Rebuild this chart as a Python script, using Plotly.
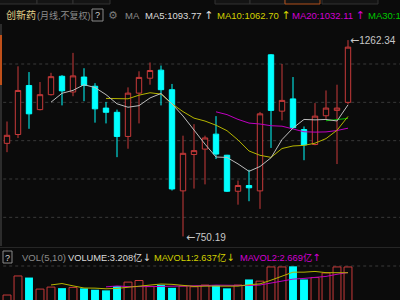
import plotly.graph_objects as go
import pandas as pd

# ---------------- data ----------------
opens = [993, 1016, 1144, 1081, 1120, 1168, 1127, 1166, 1142, 1085, 1074, 1011, 1124, 1163, 1184, 1133,
         869, 964, 978, 1017, 962, 868, 883, 869, 1224, 1077, 1109, 1029, 990, 1065, 1079, 1100]
highs = [1050, 1194, 1179, 1153, 1177, 1171, 1229, 1189, 1150, 1101, 1081, 1139, 1181, 1204, 1196, 1148,
         1013, 1043, 1013, 1064, 963, 896, 924, 1075, 1226, 1200, 1166, 1037, 1098, 1131, 1146, 1262.34]
lows = [970, 1007, 1031, 1079, 1118, 1092, 1116, 1103, 1047, 1045, 957, 979, 1045, 1146, 1092, 870,
        750.19, 875, 886, 952, 866, 833, 842, 822, 981, 1053, 1032, 949, 988, 1057, 939, 1095]
closes = [1014, 1131, 1070, 1120, 1167, 1130, 1169, 1144, 1083, 1074, 1011, 1124, 1165, 1183, 1133, 874,
          967, 974, 1007, 965, 868, 883, 877, 1070, 1079, 1105, 1034, 989, 1064, 1085, 1085, 1244]
volumes = [0.56, 2.36, 2.21, 1.12, 1.31, 1.21, 1.28, 1.19, 1.06, 1.00, 1.40, 1.78, 1.93, 1.37, 1.52, 1.24,
           1.40, 1.34, 1.50, 1.47, 1.19, 1.50, 2.03, 1.87, 3.21, 3.21, 3.27, 2.03, 2.21, 2.64, 3.21, 3.208]

title_name = "创新药"
title_sub = "(月线,不复权)"
ma_labels = ["MA5:1093.77", "MA10:1062.70", "MA20:1032.11"]
vol_labels = ["VOLUME:3.208亿", "MAVOL1:2.637亿", "MAVOL2:2.669亿"]
high_label = "1262.34"
low_label = "750.19"
grid_prices = [800, 900, 1000, 1100, 1200]

# ---------------- styles ----------------
BG = "#0b0b0b"
RED = "#c83a3a"
CYAN = "#00ffff"
GRAY_MA = "#bdbdbd"
YEL = "#b4b400"
MAG = "#c000c0"
GRN = "#00c000"
FONT = "Liberation Sans, Noto Sans CJK SC, DejaVu Sans"

W, H = 400, 300
def px(x):
    return x / W
def py(y):
    return 1 - y / H

def arrow(a, size=11):
    return '<span style="font-family:DejaVu Sans;font-size:%dpx">%s</span>' % (size, a)

idx = list(range(len(closes)))
s = pd.Series(closes, dtype=float)
ma5 = s.rolling(5).mean()
ma10 = s.rolling(10).mean()
ma20 = s.rolling(20).mean()
ma30 = s.rolling(30).mean()
v = pd.Series(volumes, dtype=float)
mav5 = v.rolling(5).mean()
mav10 = v.rolling(10).mean()

fig = go.Figure()

for ser, col in [(ma30, GRN), (ma20, MAG), (ma10, YEL), (ma5, GRAY_MA)]:
    fig.add_trace(go.Scatter(x=idx, y=ser, mode="lines", line=dict(color=col, width=1),
                             hoverinfo="skip", showlegend=False, xaxis="x", yaxis="y"))

fig.add_trace(go.Candlestick(
    x=idx, open=opens, high=highs, low=lows, close=closes,
    increasing=dict(line=dict(color=RED, width=1), fillcolor=BG),
    decreasing=dict(line=dict(color=CYAN, width=1), fillcolor=CYAN),
    whiskerwidth=0, hoverinfo="skip", showlegend=False, xaxis="x", yaxis="y"))

up_x, up_v, dn_x, dn_v = [], [], [], []
for i in idx:
    prev = closes[i - 1] if i > 0 else opens[0]
    if closes[i] >= prev:
        up_x.append(i); up_v.append(volumes[i])
    else:
        dn_x.append(i); dn_v.append(volumes[i])
fig.add_trace(go.Bar(x=up_x, y=up_v, width=0.72, marker=dict(color=BG, line=dict(color=RED, width=1)),
                     hoverinfo="skip", showlegend=False, xaxis="x2", yaxis="y2"))
fig.add_trace(go.Bar(x=dn_x, y=dn_v, width=0.72, marker=dict(color=CYAN, line=dict(width=0)),
                     hoverinfo="skip", showlegend=False, xaxis="x2", yaxis="y2"))
fig.add_trace(go.Scatter(x=idx, y=mav10, mode="lines", line=dict(color=MAG, width=1),
                         hoverinfo="skip", showlegend=False, xaxis="x2", yaxis="y2"))
fig.add_trace(go.Scatter(x=idx, y=mav5, mode="lines", line=dict(color=YEL, width=1),
                         hoverinfo="skip", showlegend=False, xaxis="x2", yaxis="y2"))

xr = [-7 / 11, -7 / 11 + W / 11]
axis_common = dict(showgrid=False, zeroline=False, showticklabels=False, ticks="", showline=False,
                   fixedrange=True)

shapes = []
for g in grid_prices:
    shapes.append(dict(type="line", xref="paper", yref="y", x0=0.008, x1=1, y0=g, y1=g,
                       line=dict(color="#3a3a3a", width=1, dash="dot"), layer="below"))
shapes.append(dict(type="line", xref="paper", yref="paper", x0=0.008, x1=1, y0=py(266), y1=py(266),
                   line=dict(color="#3a3a3a", width=1, dash="dot"), layer="below"))
shapes.append(dict(type="line", xref="paper", yref="paper", x0=0, x1=1, y0=py(247.5), y1=py(247.5),
                   line=dict(color="#262626", width=1)))
shapes.append(dict(type="rect", xref="paper", yref="paper", x0=0, x1=px(2), y0=py(246), y1=py(24),
                   line=dict(width=0), fillcolor="#2c2c2c"))
shapes.append(dict(type="rect", xref="paper", yref="paper", x0=0, x1=px(2), y0=py(85), y1=py(35),
                   line=dict(width=0), fillcolor="#c0501a"))
for x0, x1 in [(-5, 37), (37, 73), (73, 110), (215, 250), (250, 285), (322, 378)]:
    shapes.append(dict(type="rect", xref="paper", yref="paper", x0=px(x0), x1=px(x1), y0=py(4), y1=py(-10),
                       line=dict(color="#333333", width=1), fillcolor="#141414"))
shapes.append(dict(type="rect", xref="paper", yref="paper", x0=px(285), x1=px(320), y0=py(4), y1=py(-10),
                   line=dict(color="#b0501c", width=1), fillcolor="#141414"))
shapes.append(dict(type="rect", xref="paper", yref="paper", x0=px(92), x1=px(103), y0=py(21), y1=py(9),
                   line=dict(color="#8a8a8a", width=1)))
shapes.append(dict(type="rect", xref="paper", yref="paper", x0=px(3), x1=px(12), y0=py(263), y1=py(251),
                   line=dict(color="#8a8a8a", width=1)))

ann = []
def txt(x, y, t, col, size=10, anchor="left", family=FONT):
    ann.append(dict(xref="paper", yref="paper", x=px(x), y=py(y), text=t, showarrow=False,
                    xanchor=anchor, yanchor="middle", font=dict(family=family, size=size, color=col)))

TY = 15.5
txt(4, TY, title_name, "#e2d088", 10)
txt(35, TY, title_sub, "#8c8c8c", 9)
txt(97.5, TY, "?", "#d0d0d0", 9, "center")
txt(113, TY, "⚙", "#7a7a7a", 11, "center")
txt(123, TY, "MA", "#8c8c8c", 9.5)
txt(143, TY, ma_labels[0] + " " + arrow("↑"), "#dcdcdc", 9.5)
txt(215, TY, ma_labels[1] + " " + arrow("↑"), "#d2d200", 9.5)
txt(290, TY, ma_labels[2] + " " + arrow("↑"), "#d200d2", 9.5)
txt(366, TY, "MA30:%.2f" % ma30.iloc[-1], "#00c800", 9.5)

VY = 257.5
txt(7.5, VY, "?", "#d0d0d0", 9, "center")
txt(20, VY, "VOL(5,10)", "#8c8c8c", 9.5)
txt(66, VY, vol_labels[0] + arrow("↓", 10), "#dcdcdc", 9.3)
txt(152, VY, vol_labels[1] + arrow("↓", 10), "#d2d200", 9.3)
txt(238, VY, vol_labels[2] + arrow("↑", 10), "#d200d2", 9.3)

txt(348, 40.5, arrow("←", 11) + high_label, "#c8c8c8", 10)
txt(184, 237, arrow("←", 11) + low_label, "#c8c8c8", 10)

fig.update_layout(
    width=W, height=H, margin=dict(l=0, r=0, t=0, b=0),
    paper_bgcolor=BG, plot_bgcolor=BG, showlegend=False,
    barmode="overlay", boxgap=0.3,
    xaxis=dict(range=xr, domain=[0, 1], anchor="y", rangeslider=dict(visible=False), **axis_common),
    yaxis=dict(range=[727.8, 1309.6], domain=[py(245), py(22)], anchor="x", **axis_common),
    xaxis2=dict(range=xr, domain=[0, 1], anchor="y2", **axis_common),
    yaxis2=dict(range=[0.09, 3.30], domain=[0, py(266)], anchor="x2", **axis_common),
    shapes=shapes, annotations=ann,
)

fig.write_html("out.html", config={"displayModeBar": False})
